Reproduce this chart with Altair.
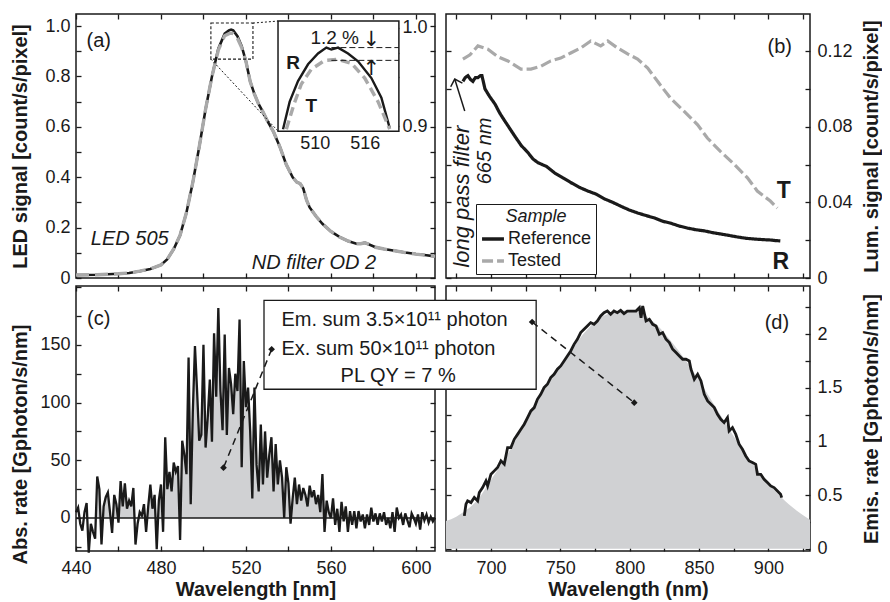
import altair as alt
import pandas as pd

FONT = "Liberation Sans"
INK = "#1a1a1a"
GRAY = "#a9a9a9"
FILLC = "#d0d1d3"

# ---------------- (a) LED signal, reference (R) and tested (T) ----------------
a_wl = [440, 450, 460, 465, 470, 475, 480, 483, 486, 489, 492, 495, 498, 501, 504,
        507, 510, 512, 513, 514, 516, 518, 520, 522, 524, 526, 528, 530, 533, 536,
        539, 542, 544, 545.5, 547, 548.5, 550, 553, 556, 560, 564, 568, 572, 574,
        576, 578, 581, 585, 590, 595, 600, 605, 609]
a_ref = [0.012, 0.013, 0.017, 0.020, 0.027, 0.036, 0.052, 0.075, 0.115, 0.17, 0.26,
         0.38, 0.52, 0.67, 0.80, 0.91, 0.97, 0.983, 0.986, 0.983, 0.96, 0.92, 0.86,
         0.78, 0.73, 0.69, 0.66, 0.625, 0.58, 0.52, 0.45, 0.40, 0.38, 0.375, 0.355,
         0.31, 0.28, 0.245, 0.215, 0.185, 0.163, 0.147, 0.136, 0.136, 0.140, 0.133,
         0.122, 0.115, 0.108, 0.101, 0.095, 0.090, 0.086]
a_test = [0.012, 0.013, 0.017, 0.020, 0.027, 0.036, 0.052, 0.075, 0.115, 0.17, 0.26,
          0.38, 0.52, 0.67, 0.80, 0.905, 0.962, 0.970, 0.972, 0.970, 0.952, 0.915, 0.86,
          0.78, 0.73, 0.69, 0.66, 0.625, 0.58, 0.52, 0.45, 0.40, 0.38, 0.375, 0.355,
          0.31, 0.28, 0.245, 0.215, 0.185, 0.163, 0.147, 0.136, 0.136, 0.140, 0.133,
          0.122, 0.115, 0.108, 0.101, 0.095, 0.090, 0.086]

# inset (zoom on the peak)
ins_wl_R = [506.2, 507.0, 508.0, 509.2, 510.4, 511.4, 512.0, 512.8, 514.0, 515.2, 516.8, 518.0, 519.0]
ins_R = [0.897, 0.925, 0.946, 0.963, 0.974, 0.980, 0.978, 0.980, 0.974, 0.966, 0.949, 0.929, 0.898]
ins_wl_T = [506.6, 507.5, 508.4, 509.6, 511.2, 512.8, 514.4, 516.0, 517.6, 519.0]
ins_T = [0.897, 0.922, 0.943, 0.958, 0.967, 0.968, 0.964, 0.949, 0.925, 0.897]
ins_levels = [0.980, 0.967]

# ---------------- (b) luminescence signal ----------------
b_wl_R = [679.8, 681.5, 683.4, 685.2, 687.0, 688.8, 690.6, 692.4, 693.5, 695.7,
          699.0, 702.9, 706.5, 710.0, 713.6, 717.2, 721.9, 726.6, 730.2, 733.8,
          740.0, 746.0, 751.8, 757.5, 763.6, 769.8, 776.0, 782.0, 787.8, 793.5,
          799.6, 805.7, 811.9, 818.0, 823.8, 829.5, 835.6, 841.7, 847.9, 854.0,
          859.7, 865.4, 871.6, 877.7, 883.9, 890.0, 895.7, 901.4, 905.0, 908.6]
b_R = [0.104, 0.106, 0.107, 0.105, 0.104, 0.106, 0.106, 0.107, 0.107, 0.100,
       0.096, 0.092, 0.087, 0.083, 0.079, 0.075, 0.070, 0.0664, 0.063, 0.061,
       0.059, 0.0555, 0.053, 0.0505, 0.048, 0.046, 0.0443, 0.0418, 0.040, 0.038,
       0.036, 0.0344, 0.033, 0.0317, 0.030, 0.029, 0.0275, 0.0264, 0.0255, 0.0249,
       0.024, 0.0233, 0.0225, 0.0217, 0.021, 0.0206, 0.0203, 0.0201, 0.0198, 0.0196]
b_wl_T = [679.8, 684.9, 690.6, 697.8, 705.0, 712.2, 721.6, 728.8, 736.0, 743.1,
          750.3, 757.5, 764.7, 771.9, 779.1, 784.2, 791.3, 798.5, 805.7, 813.0,
          820.1, 829.5, 839.5, 849.0, 856.0, 865.4, 875.5, 884.9, 892.0, 901.4, 906.4]
b_T = [0.1158, 0.118, 0.1227, 0.121, 0.117, 0.1148, 0.1105, 0.1105, 0.112, 0.1148,
       0.1163, 0.119, 0.1216, 0.1253, 0.1227, 0.1253, 0.1216, 0.1185, 0.1158, 0.111,
       0.104, 0.095, 0.088, 0.081, 0.074, 0.067, 0.060, 0.053, 0.046, 0.0407, 0.037]

# ---------------- (c) absorption rate, one value per nm from 440 to 609 ----------------
c_wl = list(range(440, 610))
c_val = [5, 9, -5, -11, 5, 13, -30, -5, -12, -18,
         36, 25, -23, 10, 18, 22, 5, -13, 20, 12,
         -4, 32, 10, 30, 8, 15, 10, 26, -23, -5,
         5, 2, 12, -12, 10, 29, 8, 20, -27, 15,
         29, -12, 70, 25, 40, 23, 48, 40, 45, -19,
         67, 55, 38, 139, 12, 93, 149, 110, 67, 72,
         150, 61, 87, 120, 66, 160, 105, 182, 110, 76,
         159, 72, 130, 116, 90, 125, 110, 172, 44, 136,
         96, 113, 75, 17, 113, 46, 23, 81, 29, 75,
         35, 55, 70, 23, 64, 29, 50, 35, 0, 44,
         30, -5, 17, 35, 12, 29, 15, 26, 20, 10,
         28, 18, 24, 12, 20, 5, 38, -12, 15, 5,
         0, 17, -6, 8, -12, 14, -3, 10, -12, 6,
         -6, 6, -9, 6, -3, 3, -9, 3, -6, 9,
         -3, 4, -6, 4, -3, 5, -6, 0, -9, 5,
         -12, 9, 0, 3, -6, 4, -2, -8, 4, 0,
         -5, 3, -10, 5, -2, 3, -4, 1, -3, 0]
c_fill_range = [449, 566]

# ---------------- (d) emission rate ----------------
d_wl = [680.8, 682.0, 683.2, 685.6, 688.0, 690.4, 691.6, 694.0, 696.4, 697.6,
        700.0, 702.4, 704.8, 707.2, 709.6, 712.0, 714.4, 716.8, 719.2, 721.6,
        724.0, 726.4, 728.8, 731.2, 733.5, 735.9, 738.3, 740.7, 743.1, 745.5,
        747.9, 750.3, 752.7, 755.1, 757.5, 759.9, 762.3, 764.7, 767.1, 769.5,
        771.9, 774.3, 776.7, 779.1, 781.5, 783.9, 786.3, 788.7, 791.1, 793.5,
        795.9, 798.3, 801.0, 804.6, 807.0, 808.2, 809.4, 811.8, 814.2, 816.6,
        819.0, 821.4, 823.8, 826.2, 828.6, 831.0, 833.4, 835.8, 838.2, 840.6,
        843.0, 844.2, 846.6, 849.0, 851.4, 853.8, 856.2, 858.6, 861.0, 863.3,
        865.7, 868.1, 870.5, 871.7, 874.1, 876.5, 878.9, 881.3, 883.7, 886.1,
        888.5, 890.9, 892.1, 894.5, 896.9, 899.3, 901.7, 904.1, 906.5, 908.8, 909.6]
d_val = [0.307, 0.416, 0.447, 0.431, 0.478, 0.447, 0.524, 0.571, 0.633, 0.586,
         0.695, 0.726, 0.757, 0.819, 0.788, 0.943, 0.943, 1.02, 1.066, 1.113,
         1.16, 1.222, 1.284, 1.315, 1.392, 1.439, 1.501, 1.532, 1.594, 1.625,
         1.672, 1.703, 1.749, 1.796, 1.842, 1.904, 1.951, 2.013, 2.044, 2.075,
         2.106, 2.09, 2.121, 2.168, 2.199, 2.214, 2.183, 2.214, 2.199, 2.22,
         2.19, 2.214, 2.214, 2.214, 2.245, 2.152, 2.261, 2.121, 2.137, 2.09,
         2.075, 1.997, 2.013, 1.951, 1.92, 1.858, 1.827, 1.796, 1.765, 1.765,
         1.749, 1.672, 1.579, 1.625, 1.563, 1.439, 1.377, 1.346, 1.315, 1.253,
         1.206, 1.175, 1.222, 1.098, 1.129, 1.067, 0.974, 0.927, 0.865, 0.818,
         0.803, 0.787, 0.694, 0.694, 0.648, 0.617, 0.586, 0.570, 0.539, 0.508, 0.477]
d_fit_wl = [667.6, 675, 680, 690, 700, 710, 720, 730, 740, 750, 760, 770, 780, 790,
            800, 810, 820, 830, 840, 850, 860, 870, 880, 890, 900, 910, 920, 930]
d_fit = [0.26, 0.30, 0.34, 0.45, 0.64, 0.84, 1.06, 1.30, 1.52, 1.71, 1.89, 2.05, 2.16, 2.21,
         2.22, 2.18, 2.08, 1.93, 1.76, 1.57, 1.36, 1.15, 0.95, 0.77, 0.61, 0.47, 0.36, 0.27]

# ---------------- layout constants ----------------
WA, WB, HT, HB = 359, 364, 264, 265
A_XDOM, A_YDOM = [440, 609], [0, 1.048]
B_XDOM, B_YDOM = [667.6, 930], [0, 0.1396]
C_YDOM = [-28.6, 201]
D_YDOM = [-0.02, 2.447]
INS_XDOM, INS_YDOM = [505.6, 520.1], [0.895, 1.007]
INS_X, INS_Y = [535.1, 592.0], [0.583, 1.020]   # inset placement in (a) data units

L_EXT, R_EXT = 40, 48


def sc(dom, **kw):
    return alt.Scale(domain=dom, nice=False, zero=False, **kw)


def axis(orient, values, labels=False, expr=None, title=None, pad=6, offset=-5,
         ticks=True, **kw):
    p = dict(orient=orient, values=values, domain=False, grid=False, ticks=ticks,
             tickSize=5, tickColor=INK, tickWidth=1.3, offset=offset, labels=labels,
             labelFont=FONT, labelFontSize=18, labelColor=INK, labelPadding=pad,
             labelFlush=False, labelOverlap=False, title=title, titleFont=FONT,
             titleFontSize=20, titleFontWeight="bold", titleColor=INK)
    if expr:
        p["labelExpr"] = expr
    p.update(kw)
    return alt.Axis(**p)


def frame(xs, ys, x0, y0, xaxis, yaxis):
    d = pd.DataFrame({"fx": [x0], "fy": [y0]})
    return alt.Chart(d).mark_point(opacity=0).encode(
        x=alt.X("fx:Q", scale=xs, axis=xaxis), y=alt.Y("fy:Q", scale=ys, axis=yaxis))


def text(rows, xs, ys, **mk):
    d = pd.DataFrame(rows, columns=["t", "x", "y"])
    base = dict(font=FONT, fontSize=20, color=INK)
    base.update(mk)
    return alt.Chart(d).mark_text(**base).encode(
        x=alt.X("x:Q", scale=xs, axis=None), y=alt.Y("y:Q", scale=ys, axis=None), text="t:N")


def seg(rows, xs, ys, **mk):
    d = pd.DataFrame(rows, columns=["x", "y", "x2", "y2"])
    return alt.Chart(d).mark_rule(**mk).encode(
        x=alt.X("x:Q", scale=xs, axis=None), y=alt.Y("y:Q", scale=ys, axis=None),
        x2="x2:Q", y2="y2:Q")


def box(rows, xs, ys, **mk):
    d = pd.DataFrame(rows, columns=["x", "y", "x2", "y2"])
    return alt.Chart(d).mark_rect(**mk).encode(
        x=alt.X("x:Q", scale=xs, axis=None), y=alt.Y("y:Q", scale=ys, axis=None),
        x2="x2:Q", y2="y2:Q")


A_XT = list(range(440, 601, 20))
A_YT = [round(0.1 * i, 1) for i in range(11)]
B_XT = list(range(675, 926, 25))
B_YT = [round(0.02 * i, 2) for i in range(7)]
C_YT = list(range(-25, 201, 25))
D_YT = [0.25 * i for i in range(10)]
I_YT = [0.9, 0.925, 0.95, 0.975, 1.0]

EXPR_A = "datum.value == 0 ? '0' : (round(datum.value * 10) % 2 == 0 ? format(datum.value, '.1f') : '')"
EXPR_B = "datum.value == 0 ? '0' : (round(datum.value * 100) % 4 == 0 ? format(datum.value, '.2f') : '')"
EXPR_C = "(datum.value >= 0 && datum.value < 200 && datum.value % 50 == 0) ? format(datum.value, 'd') : ''"
EXPR_CX = "datum.value % 40 == 0 ? format(datum.value, 'd') : ''"
EXPR_D = "round(datum.value * 4) % 2 == 0 ? format(datum.value, '~g') : ''"
EXPR_DX = "datum.value % 50 == 0 ? format(datum.value, 'd') : ''"
EXPR_I = "round(datum.value * 1000) % 100 == 0 ? format(datum.value, '.1f') : ''"

LEFT_TITLE = dict(minExtent=L_EXT, maxExtent=L_EXT, titlePadding=11)
RIGHT_TITLE = dict(titleAngle=270, titleBaseline="top", minExtent=R_EXT,
                   maxExtent=R_EXT, titlePadding=8)
BOTTOM_TITLE = dict(titlePadding=2, minExtent=31, maxExtent=31)

# ================= panel (a) =================
xa, ya = sc(A_XDOM), sc(A_YDOM)
dfa = pd.DataFrame({"wl": a_wl, "R": a_ref, "T": a_test})
a_R = alt.Chart(dfa).mark_line(color=INK, strokeWidth=2.6).encode(
    x=alt.X("wl:Q", scale=xa, axis=axis("bottom", A_XT)),
    y=alt.Y("R:Q", scale=ya, axis=axis("left", A_YT, labels=True, expr=EXPR_A,
                                       title="LED signal [count/s/pixel]", **LEFT_TITLE)))
a_T = alt.Chart(dfa).mark_line(color=GRAY, strokeWidth=3.4, strokeDash=[13, 6]).encode(
    x=alt.X("wl:Q", scale=xa, axis=None), y=alt.Y("T:Q", scale=ya, axis=None))
a_zoom = box([[503.5, 0.869, 523.3, 1.012]], xa, ya, fillOpacity=0, stroke=INK,
             strokeWidth=1.1, strokeDash=[3, 2])
a_conn = seg([[523.3, 1.012, INS_X[0], INS_Y[1]], [503.5, 0.869, INS_X[0], INS_Y[0]]],
             xa, ya, color=INK, strokeWidth=1, strokeDash=[2, 2])
a_inrect = box([[INS_X[0], INS_Y[0], INS_X[1], INS_Y[1]]], xa, ya, fill="white",
               stroke=INK, strokeWidth=1.5)
a_txt = text([["(a)", 450.7, 0.94]], xa, ya)
a_itxt = text([["LED 505", 465.3, 0.153], ["ND filter OD 2", 552.0, 0.06]], xa, ya,
              fontStyle="italic")
a_frame = frame(xa, ya, 440, 0, axis("top", A_XT), axis("right", A_YT))
main_a = alt.layer(a_R, a_T, a_zoom, a_conn, a_inrect, a_txt, a_itxt, a_frame).resolve_axis(
    x="independent", y="independent")


def pxa(v):
    return (v - A_XDOM[0]) / (A_XDOM[1] - A_XDOM[0]) * WA


def pya(v):
    return HT * (1 - (v - A_YDOM[0]) / (A_YDOM[1] - A_YDOM[0]))


ix0, ix1 = pxa(INS_X[0]), pxa(INS_X[1])
iyb, iyt = pya(INS_Y[0]), pya(INS_Y[1])
xi = sc(INS_XDOM, range=[ix0, ix1])
yi = sc(INS_YDOM, range=[iyb, iyt])
dfiR = pd.DataFrame({"wl": ins_wl_R, "v": ins_R})
dfiT = pd.DataFrame({"wl": ins_wl_T, "v": ins_T})
i_R = alt.Chart(dfiR).mark_line(color=INK, strokeWidth=2.4).encode(
    x=alt.X("wl:Q", scale=xi, axis=axis("bottom", [510, 516], labels=True, ticks=False,
                                        offset=iyb - HT, pad=3,
                                        expr="format(datum.value, 'd')")),
    y=alt.Y("v:Q", scale=yi, axis=axis("left", I_YT, offset=-(ix0 + 5))))
i_T = alt.Chart(dfiT).mark_line(color=GRAY, strokeWidth=3.4, strokeDash=[9, 5]).encode(
    x=alt.X("wl:Q", scale=xi, axis=None), y=alt.Y("v:Q", scale=yi, axis=None))
i_lev = alt.Chart(pd.DataFrame({"y": ins_levels})).mark_rule(
    color=INK, strokeWidth=1, strokeDash=[6, 3]).encode(
    x=alt.datum(512.0, scale=xi, axis=None), x2=alt.datum(520.1),
    y=alt.Y("y:Q", scale=yi, axis=None))
i_txt = text([["1.2 %", 512.4, 0.990]], xi, yi, fontSize=19)
i_arrows = text([["\u2193", 516.8, 0.9875], ["\u2191", 516.8, 0.9585]], xi, yi,
                fontSize=21, font="DejaVu Sans")
i_bold = text([["R", 507.4, 0.964], ["T", 509.6, 0.921]], xi, yi, fontSize=19,
              fontWeight="bold")
i_frame = frame(xi, yi, 510, 0.95, None,
                axis("right", I_YT, labels=True, expr=EXPR_I, offset=ix1 - 5 - WA, pad=3))
inset_a = alt.layer(i_R, i_T, i_lev, i_txt, i_arrows, i_bold, i_frame).resolve_axis(
    x="independent", y="independent")

panel_a = alt.layer(main_a, inset_a).resolve_scale(x="independent", y="independent").properties(
    width=WA, height=HT)

# ================= panel (b) =================
xb, yb = sc(B_XDOM), sc(B_YDOM)
dfb = pd.concat([
    pd.DataFrame({"wl": b_wl_R, "v": b_R, "Sample": "Reference"}),
    pd.DataFrame({"wl": b_wl_T, "v": b_T, "Sample": "Tested"})])
leg = dict(title="Sample", orient="none", legendX=30, legendY=190, titleFont=FONT,
           titleFontSize=18, titleFontStyle="italic", titleFontWeight="normal",
           titleColor=INK, titleAnchor="middle", titlePadding=0, labelFont=FONT,
           labelFontSize=18, labelColor=INK, symbolType="stroke", symbolSize=480,
           symbolStrokeWidth=3.5, strokeColor=INK, fillColor="white", padding=4,
           rowPadding=0, labelOffset=2)
b_line = alt.Chart(dfb).mark_line(strokeWidth=3.2).encode(
    x=alt.X("wl:Q", scale=xb, axis=axis("bottom", B_XT)),
    y=alt.Y("v:Q", scale=yb, axis=axis("left", B_YT)),
    color=alt.Color("Sample:N", scale=alt.Scale(domain=["Reference", "Tested"],
                                                range=[INK, GRAY]), legend=alt.Legend(**leg)),
    strokeDash=alt.StrokeDash("Sample:N", scale=alt.Scale(domain=["Reference", "Tested"],
                                                          range=[[1, 0], [11, 4]]),
                              legend=alt.Legend(**leg)),
    order="wl:Q")
b_frame = frame(xb, yb, 700, 0, axis("top", B_XT),
                axis("right", B_YT, labels=True, expr=EXPR_B, pad=7,
                     title="Lum. signal [count/s/pixel]", **RIGHT_TITLE))
b_txt = text([["(b)", 908.2, 0.1222]], xb, yb)
b_bold = text([["T", 911.1, 0.046], ["R", 909.0, 0.0082]], xb, yb, fontSize=23,
              fontWeight="bold")
b_rot1 = text([["long pass filter", 679.0, 0.0430]], xb, yb, fontStyle="italic",
              angle=270, fontSize=22)
b_rot2 = text([["665 nm", 695.9, 0.0672]], xb, yb, fontStyle="italic", angle=270,
              fontSize=20)
b_arrow = seg([[681.1, 0.0883, 673.9, 0.1052]], xb, yb, color=INK, strokeWidth=1.5)
b_head = alt.Chart(pd.DataFrame({"x": [673.9], "y": [0.1052]})).mark_point(
    shape="M -1 1 L 0 0 L 1 1", filled=False, size=150, strokeWidth=1.5, color=INK,
    angle=342.6, opacity=1).encode(
    x=alt.X("x:Q", scale=xb, axis=None), y=alt.Y("y:Q", scale=yb, axis=None))
panel_b = alt.layer(b_line, b_frame, b_txt, b_bold, b_rot1, b_rot2, b_arrow,
                    b_head).resolve_axis(x="independent", y="independent").properties(
    width=WB, height=HT)

# ================= panel (c) =================
xc, yc = sc(A_XDOM), sc(C_YDOM)
dfc = pd.DataFrame({"wl": c_wl, "v": c_val})
c_area = alt.Chart(dfc).transform_filter(
    (alt.datum.wl >= c_fill_range[0]) & (alt.datum.wl <= c_fill_range[1])
).transform_calculate(vp="max(datum.v, 0)").mark_area(color=FILLC, opacity=1).encode(
    x=alt.X("wl:Q", scale=xc, axis=None), y=alt.Y("vp:Q", scale=yc, axis=None),
    y2=alt.datum(0))
c_zero = alt.Chart(pd.DataFrame({"z": [0]})).mark_rule(color=INK, strokeWidth=1.5).encode(
    y=alt.Y("z:Q", scale=yc, axis=None))
c_line = alt.Chart(dfc).mark_line(color=INK, strokeWidth=2.3).encode(
    x=alt.X("wl:Q", scale=xc, axis=axis("bottom", A_XT, labels=True, expr=EXPR_CX, pad=8,
                                        title="Wavelength [nm]", **BOTTOM_TITLE)),
    y=alt.Y("v:Q", scale=yc, axis=axis("left", C_YT, labels=True, expr=EXPR_C,
                                       title="Abs. rate [Gphoton/s/nm]", titleY=158,
                                       **LEFT_TITLE)))
c_frame = frame(xc, yc, 440, 0, axis("top", A_XT), axis("right", C_YT))
c_txt = text([["(c)", 450.7, 172]], xc, yc)
panel_c = alt.layer(c_area, c_zero, c_line, c_frame, c_txt).resolve_axis(
    x="independent", y="independent").properties(width=WA, height=HB)

# ================= panel (d) =================
xd, yd = sc(B_XDOM), sc(D_YDOM)
dfd = pd.DataFrame({"wl": d_wl, "v": d_val})
dff = pd.DataFrame({"wl": d_fit_wl, "v": d_fit})
d_area = alt.Chart(dff).mark_area(color=FILLC, opacity=1, interpolate="monotone").encode(
    x=alt.X("wl:Q", scale=xd, axis=None), y=alt.Y("v:Q", scale=yd, axis=None),
    y2=alt.datum(0))
d_line = alt.Chart(dfd).mark_line(color=INK, strokeWidth=2.8).encode(
    x=alt.X("wl:Q", scale=xd, axis=axis("bottom", B_XT, labels=True, expr=EXPR_DX, pad=8,
                                        title="Wavelength (nm)", **BOTTOM_TITLE)),
    y=alt.Y("v:Q", scale=yd, axis=axis("right", D_YT, labels=True, expr=EXPR_D, pad=7,
                                       title="Emis. rate [Gphoton/s/nm]", **RIGHT_TITLE)))
d_frame = frame(xd, yd, 700, 0, axis("top", B_XT), axis("left", D_YT))
d_txt = text([["(d)", 906.1, 2.107]], xd, yd)
# annotation box shared by (c) and (d), drawn last so it sits on top
d_box = box([[536.4, 1.486, 732.6, 2.313]], xd, yd, fill="white", stroke=INK,
            strokeWidth=1.3)
d_btxt = text([["Em. sum 3.5\u00d710\u00b9\u00b9 photon", 549.0, 2.130],
               ["Ex. sum 50\u00d710\u00b9\u00b9 photon", 549.0, 1.865]], xd, yd,
              align="left")
d_btxt2 = text([["PL QY = 7 %", 633.1, 1.605]], xd, yd, align="center")
d_arr = seg([[541.9, 1.858, 507.2, 0.756], [729.7, 2.112, 803.3, 1.361]], xd, yd,
            color=INK, strokeWidth=1.5, strokeDash=[7, 5])
d_dia = alt.Chart(pd.DataFrame({"x": [541.9, 507.2, 729.7, 803.3],
                                "y": [1.858, 0.756, 2.112, 1.361]})).mark_point(
    shape="diamond", filled=True, size=45, color=INK, opacity=1).encode(
    x=alt.X("x:Q", scale=xd, axis=None), y=alt.Y("y:Q", scale=yd, axis=None))
panel_d = alt.layer(d_area, d_line, d_frame, d_txt, d_box, d_btxt, d_btxt2, d_arr,
                    d_dia).resolve_axis(x="independent", y="independent").properties(
    width=WB, height=HB)

chart = alt.concat(panel_a, panel_b, panel_c, panel_d, columns=2,
                   spacing={"row": 8, "column": 11}, bounds="flush", align="each"
                   ).resolve_scale(color="independent", strokeDash="independent").properties(
    padding={"left": 1, "top": 4, "right": 0, "bottom": 0}, background="white"
).configure(font=FONT).configure_view(stroke=INK, strokeWidth=1.5)

chart.save("out.html", embed_options={"renderer": "svg", "actions": False})
